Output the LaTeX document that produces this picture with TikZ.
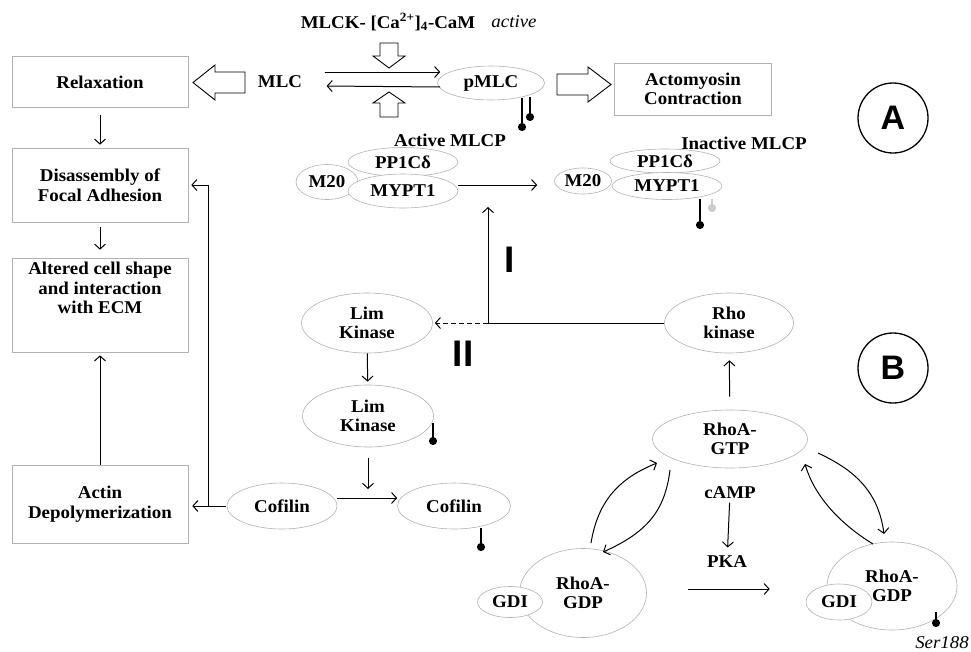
\documentclass[tikz,border=0pt]{standalone}
\usepackage{fontspec}
\setmainfont[FakeStretch=1.05]{Liberation Serif}
\newfontfamily\labelfont{Liberation Sans}
\usetikzlibrary{shapes.geometric,arrows.meta}
\newcommand\txtsize{\fontsize{18}{19.5}\selectfont}

\tikzset{
  box/.style={draw=gray!60, line width=0.6pt, align=center, minimum width=176pt, inner sep=0pt},
  oval/.style={ellipse, draw=gray!60, line width=0.6pt, fill=white, align=center, inner sep=0pt},
  flow/.style={->, line width=1pt},
  bigarrow/.style={draw, line width=0.9pt, fill=white, line join=miter},
  phos/.style={line width=1.8pt, -{Circle[length=8pt,width=8pt]}},
  tag/.style={circle, draw, line width=1.3pt, minimum size=70pt, inner sep=0pt,
    font=\labelfont\bfseries\fontsize{34}{34}\selectfont},
  route/.style={font=\labelfont\bfseries\fontsize{37}{37}\selectfont},
}

\begin{document}
\begin{tikzpicture}[x=1pt, y=-1pt, font=\txtsize\bfseries,
    >={Straight Barb[length=5pt,width=11pt]}]
  \useasboundingbox (0,0) rectangle (971,651);

  % MLC / pMLC cycle
  \node (mlck) at (388,22) {MLCK- [Ca\textsuperscript{2+}]\textsubscript{4}-CaM};
  \node[font=\txtsize\itshape] (active) at (514,22) {active};
  \node (mlc) at (280,82) {MLC};
  \node[oval, minimum width=107pt, minimum height=34pt] (pmlc) at (491,83) {pMLC};
  \draw[flow] ([shift={(19,-10)}]mlc.east) -- ([shift={(3,-11)}]pmlc.west);
  \draw[flow] ([shift={(3,4)}]pmlc.west) -- ([shift={(21,4)}]mlc.east);
  \draw[bigarrow] (380,43) -- (398,43) -- (398,56) -- (405,56) -- (389,68) -- (373,56) -- (380,56) -- cycle;
  \draw[bigarrow] (380,117) -- (398,117) -- (398,103) -- (405,103) -- (389,92) -- (373,103) -- (380,103) -- cycle;
  \draw[bigarrow] (245,72) -- (215,72) -- (215,65) -- (193,82.5) -- (215,100) -- (215,93) -- (245,93) -- cycle;
  \draw[bigarrow] (557,74) -- (588,74) -- (588,67) -- (611,84.5) -- (588,102) -- (588,95) -- (557,95) -- cycle;
  \draw[phos] (522,98) -- (522,131);
  \draw[phos] (530,97) -- (530,121);
  \node[box, minimum width=157pt, minimum height=52pt] (acto) at (693,89) {Actomyosin\\Contraction};

  % left column
  \node[box, minimum height=51pt] (relax) at (100,82) {Relaxation};
  \node[box, minimum height=74pt] (disas) at (100,185) {Disassembly of\\Focal Adhesion};
  \node[box, minimum height=94pt] (alter) at (100,305) {};
  \node[align=center] (altertxt) at (100,288) {Altered cell shape\\and interaction\\with ECM};
  \node[box, minimum height=78pt] (actin) at (100,504) {Actin\\Depolymerization};
  \draw[flow, shorten <=7pt, shorten >=3pt] (relax) -- (disas);
  \draw[flow, shorten <=5pt, shorten >=8pt] (disas) -- (alter);
  \draw[flow, shorten >=3pt] (actin) -- (alter);

  % MLCP
  \node (actmlcp) at (450,140) {Active MLCP};
  \node[oval, minimum width=62pt, minimum height=35pt] (m20a) at (327,182) {M20};
  \node[oval, minimum width=110pt, minimum height=29pt] (ppa) at (403,162) {PP1Cδ};
  \node[oval, minimum width=110pt, minimum height=34pt] (mypa) at (403,191) {MYPT1};
  \node (inactmlcp) at (744,143) {Inactive MLCP};
  \node[oval, minimum width=57pt, minimum height=26pt] (m20b) at (583,181) {M20};
  \node[oval, minimum width=110pt, minimum height=24pt] (ppb) at (665,161) {PP1Cδ};
  \node[oval, minimum width=110pt, minimum height=27pt] (mypb) at (667,186) {MYPT1};
  \draw[flow] ([yshift=6pt]mypa.east) -- ([shift={(-17,4)}]m20b.west);
  \draw[phos] (700,199) -- (700,229);
  \draw[phos, gray!40] (712,199) -- (712,212);

  % Rho kinase branches
  \node[oval, minimum width=129pt, minimum height=60pt] (rhok) at (729,323) {Rho\\kinase};
  \coordinate (jn) at (488,323);
  \coordinate (tgtI) at (488,207);
  \draw[flow] (rhok.west) -- (jn) -- (tgtI);
  \node[route] (one) at (510,260) {I};
  \node[route] (two) at (463,354) {II};
  \node[oval, minimum width=131pt, minimum height=60pt] (lk1) at (367,323) {Lim\\Kinase};
  \draw[flow, dash pattern=on 5pt off 3pt, shorten >=2pt] (jn) -- (lk1.east);
  \node[oval, minimum width=131pt, minimum height=62pt] (lk2) at (368,416) {Lim\\Kinase};
  \draw[flow, shorten >=3pt] (lk1) -- (lk2);
  \draw[phos] (433,423) -- (433,445);

  % cofilin
  \node[oval, minimum width=110pt, minimum height=46pt] (cofA) at (282,506) {Cofilin};
  \node[oval, minimum width=113pt, minimum height=46pt] (cofB) at (454,506) {Cofilin};
  \coordinate (cofmid) at (368,489);
  \draw[flow] ([yshift=8pt]cofA.east) -- ([yshift=8pt]cofB.west);
  \draw[flow] ([yshift=-11pt]lk2.south) -- (cofmid);
  \draw[phos] (481,528) -- (481,551);
  \draw[flow, shorten <=1pt, shorten >=4pt] (cofA.west) -- (cofA.west -| actin.east);
  \coordinate (br) at (208,506);
  \draw[flow, shorten >=3pt] (br) |- (disas.east);

  % RhoA cycle
  \node[oval, minimum width=155pt, minimum height=58pt] (gtp) at (730,439) {RhoA-\\GTP};
  \draw[flow, shorten <=13pt, shorten >=7pt] (gtp) -- (rhok);
  \node (camp) at (730,493) {cAMP};
  \node (pka) at (727,562) {PKA};
  \draw[flow, shorten >=5pt] (camp) -- (pka);
  \node[oval, minimum width=127pt, minimum height=89pt] (gdpL) at (583,593) {RhoA-\\GDP};
  \node[oval, minimum width=65pt, minimum height=31pt] (gdiL) at (510,602) {GDI};
  \node[oval, minimum width=130pt, minimum height=88pt] (gdpR) at (892,586) {RhoA-\\GDP};
  \node[oval, minimum width=66pt, minimum height=36pt] (gdiR) at (839,602) {GDI};
  \draw[flow] ([shift={(41,-4)}]gdpL.east) -- ([shift={(-36,-13)}]gdiR.west);
  \draw[flow] ([shift={(8,-50)}]gdpL.center) .. controls (598,500) and (620,478) .. ([shift={(-73,24)}]gtp.center);
  \draw[flow] ([shift={(-60,31)}]gtp.center) .. controls (665,510) and (648,532) .. ([shift={(20,-41)}]gdpL.center);
  \draw[flow] ([shift={(88,14)}]gtp.center) .. controls (850,468) and (878,488) .. ([shift={(-8,-52)}]gdpR.center);
  \draw[flow] ([shift={(-19,-42)}]gdpR.center) .. controls (842,525) and (815,498) .. ([shift={(75,25)}]gtp.center);
  \draw[phos] (936,612) -- (936,627);
  \node[font=\txtsize\itshape, anchor=east, inner sep=0pt] (ser) at (969,643) {Ser188};

  % panel tags
  \node[tag] (tagA) at (893,118) {A};
  \node[tag] (tagB) at (893,368) {B};
\end{tikzpicture}
\end{document}
